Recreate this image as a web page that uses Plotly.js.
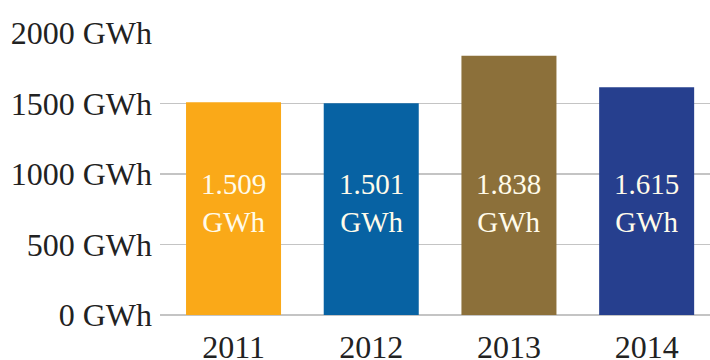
<!DOCTYPE html>
<html><head><meta charset="utf-8">
<script src="https://cdn.plot.ly/plotly-3.0.1.min.js"></script>
<style>html,body{margin:0;padding:0;background:#fff}#c{width:710px;height:360px}</style>
</head><body><div id="c"></div>
<script>
const years = ['2011', '2012', '2013', '2014'];
const values = [1509, 1501, 1838, 1615];
const valueLabels = ['1.509<br>GWh', '1.501<br>GWh', '1.838<br>GWh', '1.615<br>GWh'];
const barColors = ['#FAA918', '#0762A3', '#8C703A', '#263F8E'];
const yTickVals = [0, 500, 1000, 1500, 2000];
const yTickText = ['0 GWh', '500 GWh', '1000 GWh', '1500 GWh', '2000 GWh'];

const serif = 'Liberation Serif';
const labelY = 795;
Plotly.newPlot('c', [{
  type: 'bar', x: years, y: values,
  marker: {color: barColors, line: {width: 0}},
  hoverinfo: 'skip'
}], {
  width: 710, height: 360,
  margin: {l: 160, r: 0, t: 32, b: 45},
  paper_bgcolor: '#ffffff', plot_bgcolor: '#ffffff',
  bargap: 0.31, showlegend: false,
  font: {family: serif},
  xaxis: {type: 'category', range: [-0.534, 3.46], showgrid: false, zeroline: false,
    showline: false, ticks: '', ticklabelstandoff: 10,
    tickfont: {family: serif, size: 32, color: '#222'}},
  yaxis: {range: [0, 2007], tickvals: yTickVals, ticktext: yTickText,
    showgrid: true, gridcolor: '#c4c4c4', gridwidth: 1.5,
    zeroline: true, zerolinecolor: '#c4c4c4', zerolinewidth: 1.5,
    showline: false, ticks: '', ticklabelstandoff: 7,
    tickfont: {family: serif, size: 32, color: '#222'}},
  annotations: years.map((yr, i) => ({
    x: i, y: labelY, xref: 'x', yref: 'y', text: valueLabels[i], showarrow: false,
    font: {family: serif, size: 29, color: '#fffbea'}, align: 'center'
  }))
}, {staticPlot: true});
</script></body></html>
